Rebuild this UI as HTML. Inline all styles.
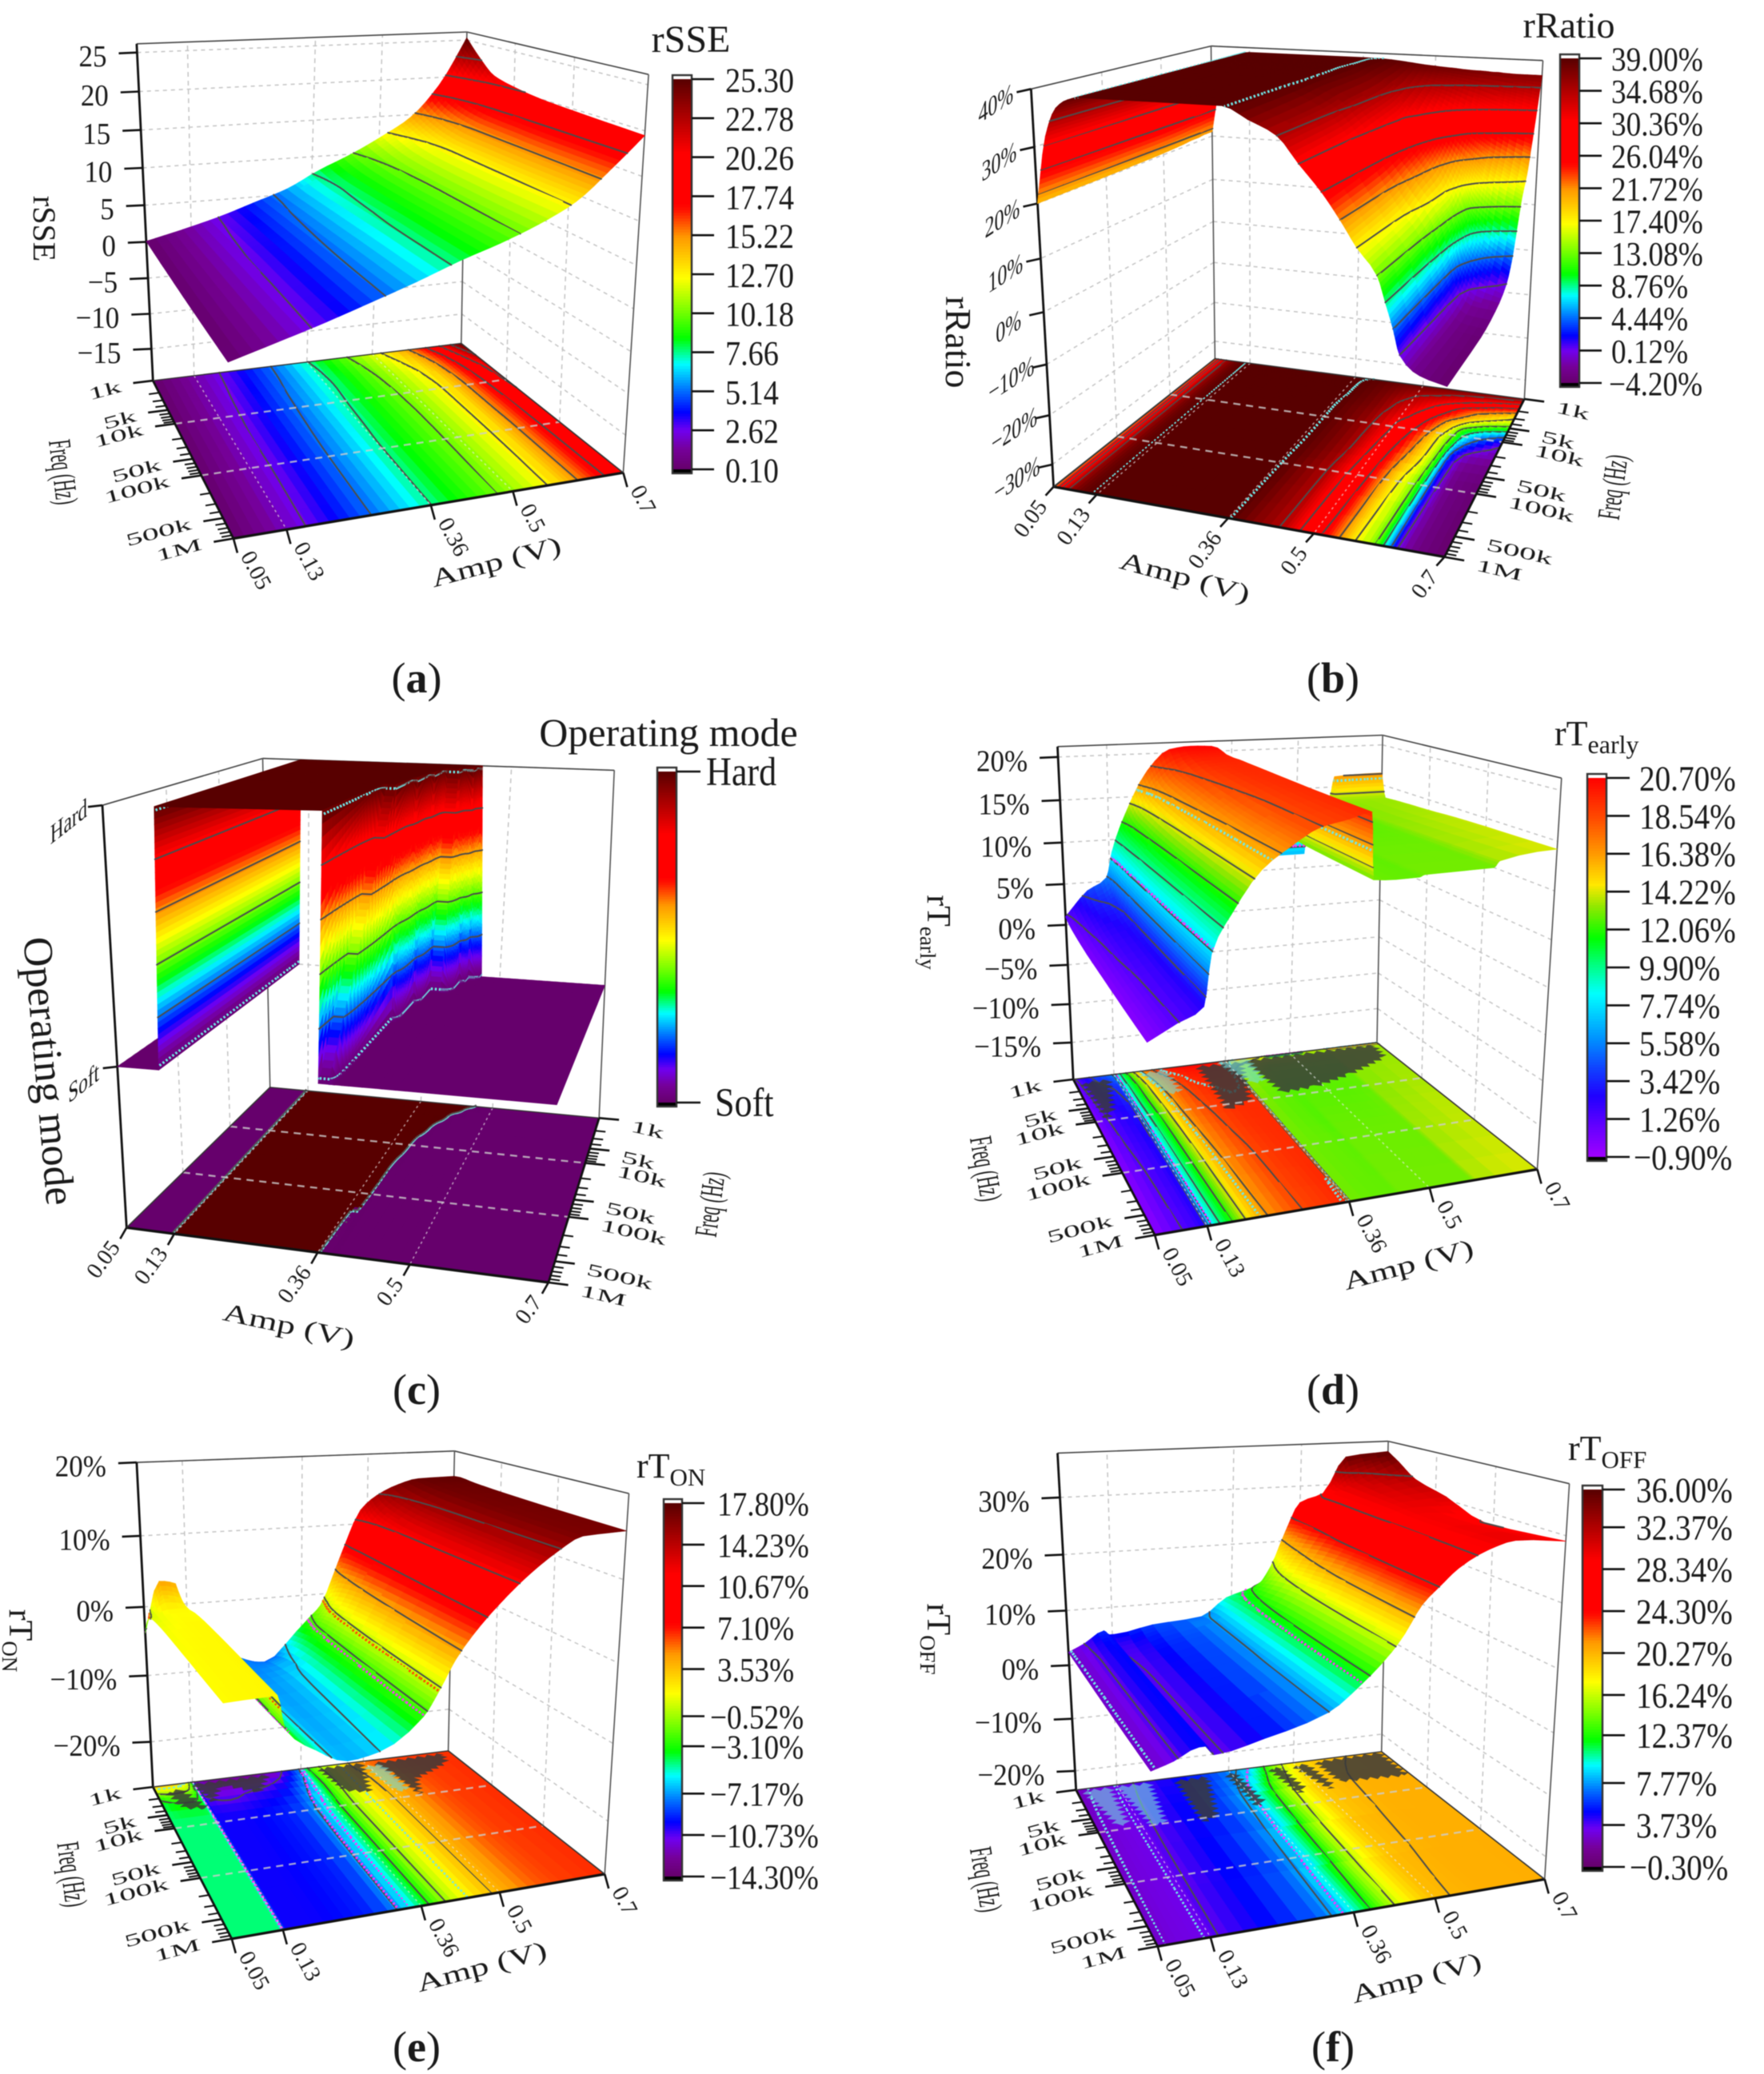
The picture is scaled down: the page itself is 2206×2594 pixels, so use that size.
<!DOCTYPE html>
<html lang="en">
<head>
<meta charset="utf-8">
<title>Operating mode surfaces</title>
<style>
html,body{margin:0;padding:0;background:#fff;}
svg{display:block;font-family:"Liberation Serif",serif;fill:#1a1a1a;filter:blur(0.6px);}
</style>
</head>
<body>
<svg id="chart" xmlns="http://www.w3.org/2000/svg" width="2206" height="2594" viewBox="0 0 2206 2594">
<rect x="0" y="0" width="2206" height="2594" fill="#fff"/>

<text x="864" y="65" font-size="48" text-anchor="middle">rSSE</text>
<text x="1962" y="47" font-size="46" text-anchor="middle">rRatio</text>
<text x="836" y="933" font-size="50" text-anchor="middle">Operating mode</text>
<text x="1944" y="932" font-size="44">rT<tspan font-size="32" dy="10">early</tspan></text>
<text x="796" y="1848" font-size="44">rT<tspan font-size="31" dy="10">ON</tspan></text>
<text x="1961" y="1826" font-size="44">rT<tspan font-size="31" dy="10">OFF</tspan></text>

<text transform="translate(42,286) rotate(90)" font-size="40" text-anchor="middle">rSSE</text>
<text transform="translate(1183,428) rotate(90)" font-size="46" text-anchor="middle">rRatio</text>
<text transform="translate(44,1341) rotate(85)" font-size="52" text-anchor="middle">Operating mode</text>
<text transform="translate(1160,1166) rotate(90)" font-size="42" text-anchor="middle">rT<tspan font-size="27" dy="9">early</tspan></text>
<text transform="translate(12,2052) rotate(90)" font-size="42" text-anchor="middle">rT<tspan font-size="27" dy="9">ON</tspan></text>
<text transform="translate(1160,2050) rotate(90)" font-size="42" text-anchor="middle">rT<tspan font-size="27" dy="9">OFF</tspan></text>

<text transform="translate(66,592) rotate(83) scale(.65,1.25)" font-size="32" text-anchor="middle">Freq (Hz)</text>
<text transform="translate(2030,611) rotate(-82) scale(.65,1.25)" font-size="32" text-anchor="middle">Freq (Hz)</text>
<text transform="translate(901,1508) rotate(-82) scale(.65,1.25)" font-size="32" text-anchor="middle">Freq (Hz)</text>
<text transform="translate(1220,1464) rotate(80) scale(.65,1.25)" font-size="32" text-anchor="middle">Freq (Hz)</text>
<text transform="translate(77,2346) rotate(82) scale(.65,1.25)" font-size="32" text-anchor="middle">Freq (Hz)</text>
<text transform="translate(1220,2353) rotate(80) scale(.65,1.25)" font-size="32" text-anchor="middle">Freq (Hz)</text>

<text transform="translate(623,713) rotate(-15) scale(1.15,.8)" font-size="40" text-anchor="middle">Amp (V)</text>
<text transform="translate(1479,732) rotate(15) scale(1.15,.8)" font-size="40" text-anchor="middle">Amp (V)</text>
<text transform="translate(359,1668) rotate(12) scale(1.15,.8)" font-size="40" text-anchor="middle">Amp (V)</text>
<text transform="translate(1764,1592) rotate(-15) scale(1.15,.8)" font-size="40" text-anchor="middle">Amp (V)</text>
<text transform="translate(605,2470) rotate(-15) scale(1.15,.8)" font-size="40" text-anchor="middle">Amp (V)</text>
<text transform="translate(1774,2484) rotate(-15) scale(1.15,.8)" font-size="40" text-anchor="middle">Amp (V)</text>

<text x="521" y="866" font-size="54" text-anchor="middle">(<tspan font-weight="bold">a</tspan>)</text>
<text x="1667" y="866" font-size="54" text-anchor="middle">(<tspan font-weight="bold">b</tspan>)</text>
<text x="521" y="1756" font-size="54" text-anchor="middle">(<tspan font-weight="bold">c</tspan>)</text>
<text x="1667" y="1756" font-size="54" text-anchor="middle">(<tspan font-weight="bold">d</tspan>)</text>
<text x="521" y="2578" font-size="54" text-anchor="middle">(<tspan font-weight="bold">e</tspan>)</text>
<text x="1667" y="2578" font-size="54" text-anchor="middle">(<tspan font-weight="bold">f</tspan>)</text>
</svg>

<script>
/* ---------- shared axis data ---------- */
const ampTicks=[0.05,0.13,0.36,0.5,0.7];
const ampTickLabels=['0.05','0.13','0.36','0.5','0.7'];
const freqMajorKHz=[1,5,10,50,100,500,1000];
const freqMajorLabels=['1k','5k','10k','50k','100k','500k','1M'];
const freqMinorKHz=[2,3,4,6,7,8,9,20,30,40,60,70,80,90,200,300,400,600,700,800,900];
const floorGridAmps=[0.13,0.36,0.5];
const floorGridFreqKHz=[10,100];

/* ---------- panel (a) rSSE ---------- */
const aAmps=[0.05,0.115,0.18,0.245,0.31,0.375,0.44,0.505,0.57,0.635,0.7];
const aFreqs=[1,2,4,10,32,100,1000];
const aValues=[
[0.1,1.3,2.62,4.2,5.8,8.1,10,12.2,14.7,19,25.3],
[0.1,1.35,2.7,4.3,5.8,7.8,9.6,11.6,13.8,17.5,23],
[0.1,1.4,2.8,4.4,5.9,7.7,9.4,11.2,13.2,16.8,21.2],
[0.1,1.45,2.9,4.5,6,7.8,9.3,11,12.9,16.4,20.5],
[0.1,1.5,3,4.6,6.1,7.9,9.3,10.9,12.9,16.3,20],
[0.1,1.55,3,4.65,6.2,8,9.35,10.9,12.9,16.2,19.8],
[0.1,1.6,3.1,4.7,6.3,8,9.4,11,13,16.2,19.5]];
const aZTicks=[25,20,15,10,5,0,-5,-10,-15];
const aZLabels=['25','20','15','10','5','0','−5','−10','−15'];
const aBarValues=[25.3,22.78,20.26,17.74,15.22,12.7,10.18,7.66,5.14,2.62,0.1];
const aBarLabels=['25.30','22.78','20.26','17.74','15.22','12.70','10.18','7.66','5.14','2.62','0.10'];

/* ---------- panel (b) rRatio ---------- */
const bAmps=[0.05,0.07,0.09,0.11,0.13,0.36,0.4,0.444,0.477,0.512,0.54,0.565,0.596,0.608,0.62,0.63,0.66,0.7];
const bFreqs=[1,1.23,1.51,2,2.8,4,5.6,8,12.9,32,100,1000];
const bValues=[
[21,33,37,38.5,39,39,38.9,38.5,38.1,37.8,37.6,37.4,37.3,37.2,37.2,37.1,37,37],
[21,33,37,38.5,39,39,38.7,37.9,37.2,36.7,36.2,35.8,35.2,35,34.8,34.6,34,33],
[21,32.8,37,38.5,39,39,38.6,37.6,36.5,35.5,34.9,34,33,32.5,32,31.7,30.5,29],
[20.8,32.8,37,38.5,39,39,38.5,37.3,35.7,34,33,31.8,29.8,29,28.3,27.7,25.7,24],
[20.8,32.7,37,38.5,39,39,38.4,37,34.8,33,31,28.7,25.4,24.4,23.5,22.8,21.2,18.5],
[20.6,32.6,37,38.5,39,39,38.2,36.8,34.2,31.7,29.3,26.5,23.2,22,20.8,19.8,17.4,15],
[20.5,32.5,37,38.5,39,39,38,36.4,33.5,30.7,27.6,24.6,20.2,18.8,16.8,15.4,12.4,10],
[20.4,32.4,37,38.5,39,39,38,36.2,33,29.2,26.5,23.1,18.1,15.4,12.1,10.3,7.2,4.4],
[20.3,32.3,37,38.5,39,39,38,36,32.6,28.7,25.3,21.7,16,13.4,10.2,7.3,3,0.1],
[20.2,32.2,37,38.5,39,39,38,35.8,32,27.6,23.9,20.3,15.4,11.8,6.6,2.2,-2,-2.5],
[20.1,32.1,37,38.5,39,39,37.5,35,31,27,22.5,18.3,14,10,5.5,1.2,-3,-3.8],
[20,32,37,38.5,39,39,37,34.7,30.4,26,21.7,17.4,13,8.8,4.4,0.1,-3,-4.2]];
const bZTicks=[40,30,20,10,0,-10,-20,-30];
const bZLabels=['40%','30%','20%','10%','0%','−10%','−20%','−30%'];
const bBarValues=[39,34.68,30.36,26.04,21.72,17.4,13.08,8.76,4.44,0.12,-4.2];
const bBarLabels=['39.00%','34.68%','30.36%','26.04%','21.72%','17.40%','13.08%','8.76%','4.44%','0.12%','−4.20%'];

/* ---------- panel (c) Operating mode ---------- */
const cAmps=[0.05,0.112,0.116,0.34,0.35,0.365,0.375,0.385,0.395,0.415,0.435,0.445,0.465,0.7];
const cFreqs=[1,1.41,2,4,10,32,1000];
const cValues=[
[0,0,1,1,1,1,1,1,1,1,1,1,0,0],
[0,0,1,1,1,1,1,1,1,1,1,0,0,0],
[0,0,1,1,1,1,1,1,1,1,0,0,0,0],
[0,0,1,1,1,1,1,1,0,0,0,0,0,0],
[0,0,1,1,1,1,1,0,0,0,0,0,0,0],
[0,0,1,1,1,1,0,0,0,0,0,0,0,0],
[0,0,1,1,0,0,0,0,0,0,0,0,0,0]];
const cFloorAmps=[0.05,0.128,0.132,0.36,0.37,0.38,0.39,0.40,0.42,0.44,0.46,0.48,0.5,0.7];
const cFloorValues=[
[0,0,1,1,1,1,1,1,1,1,1,0,0,0],
[0,0,1,1,1,1,1,1,1,1,0,0,0,0],
[0,0,1,1,1,1,1,1,1,0,0,0,0,0],
[0,0,1,1,1,1,1,1,0,0,0,0,0,0],
[0,0,1,1,1,1,1,0,0,0,0,0,0,0],
[0,0,1,1,1,1,0,0,0,0,0,0,0,0],
[0,0,1,1,0,0,0,0,0,0,0,0,0,0]];
const cZTicks=[1,0];
const cZLabels=['Hard','Soft'];
const cBarValues=[1,0];
const cBarLabels=['Hard','Soft'];

/* ---------- panel (d) rTearly ---------- */
const dAmps=[0.05,0.09,0.125,0.135,0.16,0.2,0.24,0.28,0.32,0.355,0.365,0.42,0.44,0.45,0.52,0.53,0.575,0.585,0.695,0.7];
const dFreqs=[1,1.23,2,4,10,32,100,1000];
const dValues=[
[1,4,5.5,8.5,13,18,20.4,20.7,20.6,19,16.5,14.5,14.2,6.8,6.8,14,13.8,16.3,16.5,16.4],
[0.8,3.5,5,8.5,12.5,17.5,19.8,20.2,20.2,19,15,14,13.8,13.6,13.5,13.4,13.4,13.5,13.5,13.5],
[0.5,3,4,8.2,12,16.5,18.8,19.8,19.8,19.4,14,13.2,13,13,13,13,13,13.3,13.5,13.6],
[0.3,2.5,3.5,8,11.8,16,18.3,19.3,19.5,19.4,13.5,12.9,12.8,12.8,12.8,12.8,12.8,13.2,13.6,13.7],
[0.1,2,3,7.8,11.5,15.7,18,19,19.4,19.4,13.2,12.7,12.6,12.7,12.7,12.7,12.8,13.2,13.7,13.8],
[0,1.7,2.8,7.7,11.3,15.4,17.6,18.8,19.3,19.4,13.1,12.7,12.6,12.8,12.8,12.8,12.9,13.3,13.9,14],
[-0.1,1.4,2.7,7.6,11.2,15.2,17.3,18.6,19.2,19.4,13,12.8,12.7,12.9,12.9,12.9,12.9,13.4,14,14.1],
[-0.3,1.2,2.5,7.5,11,15,17,18.5,19,19.5,13,12.8,12.8,13,13,13,13,13.6,14.2,14.2]];
const dZTicks=[20,15,10,5,0,-5,-10,-15];
const dZLabels=['20%','15%','10%','5%','0%','−5%','−10%','−15%'];
const dBarValues=[20.7,18.54,16.38,14.22,12.06,9.9,7.74,5.58,3.42,1.26,-0.9];
const dBarLabels=['20.70%','18.54%','16.38%','14.22%','12.06%','9.90%','7.74%','5.58%','3.42%','1.26%','−0.90%'];

/* ---------- panel (e) rTON ---------- */
const eAmps=[0.05,0.08,0.11,0.125,0.135,0.18,0.23,0.28,0.35,0.375,0.4,0.44,0.485,0.52,0.57,0.615,0.7];
const eFreqs=[1,1.41,2.83,10,100,1000];
const eValues=[
[-3.8,3.5,3,-1.8,-2.5,-6,-8.5,-9.6,-5.3,-3.5,-1.7,5,12,14,15.5,16.2,16.3],
[-1.5,2,1.5,-0.5,-2.5,-6,-8.5,-8.9,-5,-3,-0.8,5.6,10.8,13.2,15.2,16.2,16.4],
[-0.2,0.4,0.5,0.3,-3,-6.5,-8.5,-8.2,-4.5,-2,0.5,5.8,10,12.5,14.8,16,16.2],
[0.2,0.5,0.6,0.6,-3.2,-6.6,-8.2,-7.6,-4.2,-1.5,1.5,6,9.7,12,14.4,15.8,16],
[0.4,0.6,0.6,0.7,-3.2,-6.3,-8,-7.4,-3.9,-1,2.2,6.2,9.6,11.8,14.2,15.6,15.8],
[0.5,0.6,0.65,0.7,-3,-6,-7.8,-7.2,-3.7,-0.8,2.6,6.3,9.5,11.6,14,15.5,15.7]];
const eFloorFreqs=[1,2.83,10,1000];
const eFloorValues=[
[3,3,2,-2,-12,-13,-13,-12.5,-8,-3,-0.5,1.5,5,6,6.4,6.5,6.5],
[-4,-3,-3,-3.5,-10.5,-11,-10.5,-10,-6.5,-3.5,-1,1.5,3.7,4.8,6,6.3,6.6],
[-4.5,-4.5,-4.5,-4.5,-9.8,-9.8,-9.5,-9,-5.5,-3,-0.7,1.5,3.5,4.5,5.8,6.3,6.6],
[-4.5,-4.5,-4.5,-4.5,-9.8,-9.8,-9.5,-9,-5,-3,-0.7,1.5,3.5,4.5,5.8,6.3,6.6]];
const eZTicks=[20,10,0,-10,-20];
const eZLabels=['20%','10%','0%','−10%','−20%'];
const eBarValues=[17.8,14.23,10.67,7.1,3.53,-0.52,-3.1,-7.17,-10.73,-14.3];
const eBarLabels=['17.80%','14.23%','10.67%','7.10%','3.53%','−0.52%','−3.10%','−7.17%','−10.73%','−14.30%'];

/* ---------- panel (f) rTOFF ---------- */
const fAmps=[0.05,0.08,0.115,0.125,0.135,0.205,0.3,0.35,0.395,0.415,0.44,0.47,0.5,0.55,0.6,0.7];
const fFreqs=[1,1.74,4,15.8,72.4,1000];
const fValues=[
[2.4,3.8,5.8,5,5,6.2,7,10.2,11.5,12.2,15.4,21.8,27,28.5,35,35.7],
[2.4,3.6,5.2,5,4,5.8,7.6,10.5,13,14.5,17.5,22.5,27,29,31,34.3],
[2.4,3.4,5,5,3.7,5.4,7.6,10.8,14,16,19,23,26.5,29,30.5,32],
[2.4,3.4,5,5,3.6,5.2,7.6,11,15,17,20.5,24,26.6,29,30,30.5],
[2.4,3.4,5,5,3.6,5.1,7.7,11.2,15.3,17.6,21.5,24.3,26.7,28.8,29.5,28.2],
[2.4,3.4,5,5,3.6,5,7.7,11.3,15.5,18,21.9,24.5,26.8,29,30,29.2]];
const fFloorFreqs=[1,4,1000];
const fFloorValues=[
[2.3,2.8,3.1,3.3,3.4,4.3,5.7,7,8.5,10,13,16,18,19.7,20.2,20.5],
[2.4,2.9,3.2,3.4,3.5,4.6,6.2,8,10.8,13,15.5,17.5,19.3,20,20.4,20.5],
[2.5,3,3.2,3.4,3.6,4.8,6.8,9.2,13,15,17,19,20,20.4,20.5,20.5]];
const fZTicks=[30,20,10,0,-10,-20];
const fZLabels=['30%','20%','10%','0%','−10%','−20%'];
const fBarValues=[36,32.37,28.34,24.3,20.27,16.24,12.37,7.77,3.73,-0.3];
const fBarLabels=['36.00%','32.37%','28.34%','24.30%','20.27%','16.24%','12.37%','7.77%','3.73%','−0.30%'];

/* ---------- contour-clutter regions on the floors (axis fractions: amp share, log-freq share) ---------- */
const dClutter=[
 ['#3a3a3a',[[.53,.02],[.545,.16],[.56,.3],[.67,.29],[.81,.23],[.97,.13],[.98,.02]]],
 ['#3a3a3a',[[.38,.02],[.37,.37],[.45,.33],[.52,.03]]],
 ['#3a3a3a',[[.02,.04],[.035,.32],[.06,.28],[.1,.04]]],
 ['#70e0e0',[[.2,.02],[.24,.2],[.28,.2],[.28,.02]]],
 ['#70e0e0',[[.45,0],[.5,.2],[.54,.2],[.55,0]]]];
const eClutter=[
 ['#3a3a3a',[[.72,.03],[.74,.14],[.76,.33],[.8,.2],[.95,.1],[.97,.02]]],
 ['#3a3a3a',[[.53,.02],[.55,.22],[.62,.26],[.68,.02]]],
 ['#3a3a3a',[[.12,.02],[.15,.18],[.2,.05],[.3,.15],[.36,.02]]],
 ['#3a3a3a',[[.03,.06],[.06,.2],[.12,.22],[.08,.05]]],
 ['#70e0e0',[[.68,.05],[.7,.28],[.74,.28],[.74,.05]]]];
const fClutter=[
 ['#3a3a3a',[[.76,.02],[.77,.2],[.99,.22],[.99,.01]]],
 ['#3a3a3a',[[.3,.03],[.29,.36],[.34,.33],[.4,.03]]],
 ['#3a3a3a',[[.46,.03],[.47,.3],[.5,.28],[.49,.03]]],
 ['#3a3a3a',[[.6,.03],[.62,.25],[.65,.22],[.64,.03]]],
 ['#3a3a3a',[[.68,.03],[.72,.25],[.74,.22],[.73,.03]]],
 ['#70e0e0',[[.02,.02],[.06,.3],[.09,.3],[.1,.02]]],
 ['#70e0e0',[[.12,.02],[.15,.33],[.19,.33],[.22,.02]]]];

/* ---------- colour maps ---------- */
const baseStops=[[0,'#66006c'],[.05,'#750098'],[.1,'#7000f0'],[.145,'#0000ff'],[.21,'#0080ff'],[.27,'#00ffff'],[.335,'#00ff00'],[.41,'#80ff00'],[.49,'#ffff00'],[.595,'#ff9900'],[.665,'#ff1000'],[.68,'#ff0000'],[.81,'#ff0000'],[.9,'#b00000'],[1,'#580000']];
const earlyStops=[[0,'#a000ff'],[.085,'#6000ff'],[.16,'#2000ff'],[.232,'#1040ff'],[.31,'#0090ff'],[.43,'#00ffff'],[.507,'#00ff80'],[.577,'#00ff00'],[.66,'#90e800'],[.718,'#ffe800'],[.8,'#ff9900'],[.887,'#ff5000'],[1,'#ff0000']];

function hexRGB(h){return [parseInt(h.slice(1,3),16),parseInt(h.slice(3,5),16),parseInt(h.slice(5,7),16)];}
function colorAt(stops,f){
  f=Math.max(0,Math.min(1,f));
  for(let i=1;i<stops.length;i++){
    if(f<=stops[i][0]){
      const s=(f-stops[i-1][0])/(stops[i][0]-stops[i-1][0]);
      const a=hexRGB(stops[i-1][1]),b=hexRGB(stops[i][1]);
      return 'rgb('+Math.round(a[0]+(b[0]-a[0])*s)+','+Math.round(a[1]+(b[1]-a[1])*s)+','+Math.round(a[2]+(b[2]-a[2])*s)+')';
    }
  }
  return stops[stops.length-1][1];
}

/* ---------- geometry helpers ---------- */
const NS='http://www.w3.org/2000/svg';
const svg=document.getElementById('chart');
function homography(q){
  const [x0,y0]=q[0],[x1,y1]=q[1],[x2,y2]=q[2],[x3,y3]=q[3];
  const dx1=x1-x2,dx2=x3-x2,sx=x0-x1+x2-x3,dy1=y1-y2,dy2=y3-y2,sy=y0-y1+y2-y3;
  const den=dx1*dy2-dx2*dy1;
  const g=(sx*dy2-dx2*sy)/den,h=(dx1*sy-sx*dy1)/den;
  const a=x1-x0+g*x1,b=x3-x0+h*x3,c=x0,d=y1-y0+g*y1,e=y3-y0+h*y3,f=y0;
  return (u,v)=>{const w=g*u+h*v+1;return [(a*u+b*v+c)/w,(d*u+e*v+f)/w];};
}
const ampToU=a=>(a-0.05)/0.65;
const freqToV=k=>Math.log10(k)/3;

/* monotone cubic so cliffs stay cliffs while slopes turn smooth */
function pchip(xs,ys,qs){
  const n=xs.length,h=[],s=[],d=new Array(n).fill(0);
  for(let i=0;i<n-1;i++){h[i]=xs[i+1]-xs[i];s[i]=(ys[i+1]-ys[i])/h[i];}
  d[0]=s[0];d[n-1]=s[n-2];
  for(let i=1;i<n-1;i++){
    if(s[i-1]*s[i]<=0)d[i]=0;
    else{const w1=2*h[i]+h[i-1],w2=h[i]+2*h[i-1];d[i]=(w1+w2)/(w1/s[i-1]+w2/s[i]);}
  }
  return qs.map(q=>{
    let i=0;
    while(i<n-2&&q>xs[i+1])i++;
    const t=(q-xs[i])/h[i],t2=t*t,t3=t2*t;
    return (2*t3-3*t2+1)*ys[i]+(t3-2*t2+t)*h[i]*d[i]+(-2*t3+3*t2)*ys[i+1]+(t3-t2)*h[i]*d[i+1];
  });
}
function refine(xs,m){
  const out=[];
  for(let i=0;i<xs.length-1;i++)for(let k=0;k<m;k++)out.push(xs[i]+(xs[i+1]-xs[i])*k/m);
  out.push(xs[xs.length-1]);
  return out;
}
function upsample(amps,freqs,vals,m){
  if(m<=1)return {amps:amps,freqs:freqs,vals:vals};
  const fa=refine(amps,m),lf=freqs.map(k=>Math.log10(k)),flf=refine(lf,m);
  const rows=vals.map(r=>pchip(amps,r,fa));
  const cols=fa.map((_,c)=>pchip(lf,rows.map(r=>r[c]),flf));
  return {amps:fa,freqs:flf.map(l=>Math.pow(10,l)),vals:flf.map((_,j)=>cols.map(col=>col[j]))};
}

function addLine(parent,a,b,stroke,width,dash,name){
  const el=document.createElementNS(NS,'line');
  
  
  el.setAttribute('x1',a[0].toFixed(1));el.setAttribute('y1',a[1].toFixed(1));
  el.setAttribute('x2',b[0].toFixed(1));el.setAttribute('y2',b[1].toFixed(1));
  el.setAttribute('stroke',stroke);el.setAttribute('stroke-width',width);
  if(dash)el.setAttribute('stroke-dasharray',dash);
  parent.appendChild(el);
}
function addText(parent,str,x,y,o,name){
  const el=document.createElementNS(NS,'text');
  
  
  el.setAttribute('transform','translate('+x.toFixed(1)+','+y.toFixed(1)+') rotate('+(o.rot||0)+') skewY('+(o.skew||0)+') scale('+(o.sx||1)+','+(o.sy||1)+')');
  el.setAttribute('font-size',o.size);
  el.setAttribute('text-anchor',o.anchor||'middle');
  el.setAttribute('dominant-baseline','central');
  el.textContent=str;
  parent.appendChild(el);
}
function addGroup(parent,name){
  const el=document.createElementNS(NS,'g');
  
  
  parent.appendChild(el);
  return el;
}

/* split each data cell according to how much colour it spans */
function buildCells(amps,freqs,vals,range,target){
  const us=amps.map(ampToU),vs=freqs.map(freqToV),cells=[];
  for(let j=0;j<vs.length-1;j++){
    for(let i=0;i<us.length-1;i++){
      const z00=vals[j][i],z10=vals[j][i+1],z01=vals[j+1][i],z11=vals[j+1][i+1];
      let nx=Math.max(1,Math.ceil(Math.max(Math.abs(z10-z00),Math.abs(z11-z01))/range*target));
      let ny=Math.max(1,Math.ceil(Math.max(Math.abs(z01-z00),Math.abs(z11-z10))/range*target));
      if(nx*ny>400){const s=Math.sqrt(400/(nx*ny));nx=Math.ceil(nx*s);ny=Math.ceil(ny*s);}
      const val=(s,t)=>z00*(1-s)*(1-t)+z10*s*(1-t)+z01*(1-s)*t+z11*s*t;
      for(let b=0;b<ny;b++){
        for(let a=0;a<nx;a++){
          const s0=a/nx,s1=(a+1)/nx,t0=b/ny,t1=(b+1)/ny;
          cells.push({
            u0:us[i]+(us[i+1]-us[i])*s0,u1:us[i]+(us[i+1]-us[i])*s1,
            v0:vs[j]+(vs[j+1]-vs[j])*t0,v1:vs[j]+(vs[j+1]-vs[j])*t1,
            z:[val(s0,t0),val(s1,t0),val(s1,t1),val(s0,t1)]
          });
        }
      }
    }
  }
  return cells;
}

function contourSegments(p,z,L){
  const pts=[];
  for(let k=0;k<4;k++){
    const n=(k+1)%4;
    if((z[k]>=L)!==(z[n]>=L)){
      const t=(L-z[k])/(z[n]-z[k]);
      pts.push([p[k][0]+(p[n][0]-p[k][0])*t,p[k][1]+(p[n][1]-p[k][1])*t]);
    }
  }
  const out=[];
  for(let k=0;k+1<pts.length;k+=2)out.push([pts[k],pts[k+1]]);
  return out;
}

function paintCells(parent,cells,project,floorProj,colorOf,levels,dotted,prefix){
  const frag=document.createDocumentFragment();
  const items=cells.map(c=>{
    const m=floorProj((c.u0+c.u1)/2,(c.v0+c.v1)/2);
    return {c:c,d:m[1]};
  });
  items.sort((a,b)=>a.d-b.d);
  for(const it of items){
    const c=it.c;
    const P=[project(c.u0,c.v0,c.z[0]),project(c.u1,c.v0,c.z[1]),project(c.u1,c.v1,c.z[2]),project(c.u0,c.v1,c.z[3])];
    const col=colorOf((c.z[0]+c.z[1]+c.z[2]+c.z[3])/4);
    const poly=document.createElementNS(NS,'polygon');
    
    
    poly.setAttribute('points',P.map(q=>q[0].toFixed(1)+','+q[1].toFixed(1)).join(' '));
    poly.setAttribute('fill',col);
    poly.setAttribute('stroke',col);
    poly.setAttribute('stroke-width','0.7');
    frag.appendChild(poly);
    for(const L of levels){
      for(const s of contourSegments(P,c.z,L)){
        const ln=document.createElementNS(NS,'line');
        
        
        ln.setAttribute('x1',s[0][0].toFixed(1));ln.setAttribute('y1',s[0][1].toFixed(1));
        ln.setAttribute('x2',s[1][0].toFixed(1));ln.setAttribute('y2',s[1][1].toFixed(1));
        ln.setAttribute('stroke','#4c4c4c');ln.setAttribute('stroke-width','2');
        ln.setAttribute('stroke-linecap','round');
        frag.appendChild(ln);
      }
    }
    for(const D of dotted){
      for(const s of contourSegments(P,c.z,D[0]))addLine(frag,s[0],s[1],D[1],D[2]||'3.4',D[3]===undefined?'2.5 2.5':D[3],prefix+'-dotted-contour');
    }
  }
  parent.appendChild(frag);
}

/* saw-tooth outline so a clutter region reads as aliased contour noise */
function zigzag(pts){
  const out=[];
  for(let i=0;i<pts.length;i++){
    const a=pts[i],b=pts[(i+1)%pts.length];
    const len=Math.hypot(b[0]-a[0],b[1]-a[1]),n=Math.max(1,Math.ceil(len/0.018));
    const nx=-(b[1]-a[1])/(len||1),ny=(b[0]-a[0])/(len||1);
    for(let k=0;k<n;k++){
      const t=k/n,o=(k%2?0.011:-0.011);
      out.push([a[0]+(b[0]-a[0])*t+nx*o,Math.max(0,a[1]+(b[1]-a[1])*t+ny*o)]);
    }
  }
  return out;
}

/* ---------- panel renderer ---------- */
function drawPanel(cfg){
  const g=addGroup(svg,'panel-'+cfg.id);
  const SX=1103/1568;
  const Z=p=>[cfg.ox+p[0]*SX,cfg.oy+p[1]*cfg.sy];
  const Fh=homography(cfg.floor.map(Z)),Ch=homography(cfg.ceil.map(Z));
  const zb=cfg.zRange[0],zt=cfg.zRange[1];
  const W=z=>{const t=(z-zb)/(zt-zb);return t+cfg.k*t*(1-t);};
  const pt=(u,v,z)=>{const a=Fh(u,v),b=Ch(u,v),w=W(z);return [a[0]+(b[0]-a[0])*w,a[1]+(b[1]-a[1])*w];};
  const floorPt=(u,v)=>Fh(u,v);
  const barMin=cfg.barValues[cfg.barValues.length-1],barMax=cfg.barValues[0];
  const colorOf=z=>colorAt(cfg.stops,(z-barMin)/(barMax-barMin));
  const side=cfg.sideU;

  /* walls */
  const walls=addGroup(g,'wall-grid-'+cfg.id);
  cfg.zTicks.forEach(z=>{
    addLine(walls,pt(0,0,z),pt(1,0,z),'#c4c4c4','1.5','5 5','wall-grid-z-line');
    addLine(walls,pt(side,0,z),pt(side,1,z),'#c4c4c4','1.5','5 5','wall-grid-z-line');
  });
  floorGridAmps.forEach(a=>addLine(walls,pt(ampToU(a),0,zb),pt(ampToU(a),0,zt),'#c4c4c4','1.5','6 5','wall-grid-amp-line'));
  floorGridFreqKHz.forEach(k=>addLine(walls,pt(side,freqToV(k),zb),pt(side,freqToV(k),zt),'#c4c4c4','1.5','6 5','wall-grid-freq-line'));
  addLine(walls,pt(0,0,zt),pt(1,0,zt),'#444','1.6',null,'frame-top-back');
  addLine(walls,pt(side,0,zt),pt(side,1,zt),'#444','1.6',null,'frame-top-side');
  addLine(walls,pt(side,0,zb),pt(side,0,zt),'#555','1.6',null,'frame-back-corner');
  const oc=cfg.outerCorner;
  addLine(walls,pt(oc[0],oc[1],zb),pt(oc[0],oc[1],zt),'#555','1.6',null,'frame-outer-corner');

  /* floor */
  const floorG=addGroup(g,'floor-map-'+cfg.id);
  const rng=barMax-barMin,m=cfg.refine;
  const fl=upsample(cfg.floorAmps||cfg.amps,cfg.floorFreqs||cfg.freqs,cfg.floorValues||cfg.values,m);
  const floorCells=buildCells(fl.amps,fl.freqs,fl.vals,rng,34);
  const floorColor=cfg.floorBinary?(z=>colorOf(z>=0.5?1:0)):colorOf;
  paintCells(floorG,floorCells,(u,v)=>floorPt(u,v),floorPt,floorColor,cfg.floorBinary?[]:cfg.levels,cfg.floorDotted,'floor');
  (cfg.clutter||[]).forEach(b=>{
    const poly=document.createElementNS(NS,'polygon');
    
    
    poly.setAttribute('points',zigzag(b[1]).map(q=>{const r=floorPt(q[0],q[1]);return r[0].toFixed(1)+','+r[1].toFixed(1);}).join(' '));
    poly.setAttribute('fill',b[0]);
    poly.setAttribute('fill-opacity',b[0]==='#3a3a3a'?'0.85':'0.6');
    floorG.appendChild(poly);
  });
  floorGridAmps.forEach(a=>addLine(floorG,floorPt(ampToU(a),0),floorPt(ampToU(a),1),'rgba(235,235,235,.65)','1.5','3 4','floor-grid-amp-line'));
  floorGridFreqKHz.forEach(k=>addLine(floorG,floorPt(0,freqToV(k)),floorPt(1,freqToV(k)),'rgba(205,205,205,.8)','2.3','9 7','floor-grid-freq-line'));

  /* axes */
  const axes=addGroup(g,'axes-'+cfg.id);
  const ac=cfg.axisCorner;
  addLine(axes,pt(ac[0],ac[1],zb),pt(ac[0],ac[1],zt),'#111','2.8',null,'z-axis-line');
  cfg.zTicks.forEach((z,i)=>{
    const p=pt(ac[0],ac[1],z);
    addLine(axes,p,[p[0]+cfg.zTick[0],p[1]+cfg.zTick[1]],'#111','2.6',null,'z-axis-tick');
    addText(axes,cfg.zLabels[i],p[0]+cfg.zLab.dx,p[1]+cfg.zLab.dy,cfg.zLab,'z-tick-label');
  });
  addLine(axes,floorPt(0,1),floorPt(1,1),'#111','3.2',null,'amp-axis-line');
  const fu=cfg.freqEdgeU;
  addLine(axes,floorPt(fu,0),floorPt(fu,1),'#111','2.8',null,'freq-axis-line');
  addLine(axes,floorPt(1-fu,0),floorPt(1-fu,1),'#333','1.6',null,'floor-far-edge');
  addLine(axes,floorPt(0,0),floorPt(1,0),'#333','1.4',null,'floor-back-edge');
  ampTicks.forEach((a,i)=>{
    const p=floorPt(ampToU(a),1);
    addLine(axes,p,[p[0]+cfg.ampTick[0],p[1]+cfg.ampTick[1]],'#111','2.6',null,'amp-axis-tick');
    addText(axes,ampTickLabels[i],p[0]+cfg.ampLab.dx,p[1]+cfg.ampLab.dy,cfg.ampLab,'amp-tick-label');
  });
  const dirOut=v=>{
    const a=floorPt(fu,v),b=floorPt(1-fu,v),l=Math.hypot(a[0]-b[0],a[1]-b[1]);
    return [(a[0]-b[0])/l,(a[1]-b[1])/l];
  };
  freqMinorKHz.forEach(k=>{
    const v=freqToV(k),p=floorPt(fu,v),d=dirOut(v);
    addLine(axes,p,[p[0]+d[0]*13,p[1]+d[1]*13],'#111','2',null,'freq-axis-minor-tick');
  });
  freqMajorKHz.forEach((k,i)=>{
    const v=freqToV(k),p=floorPt(fu,v),d=dirOut(v);
    addLine(axes,p,[p[0]+d[0]*25,p[1]+d[1]*25],'#111','2.6',null,'freq-axis-major-tick');
    addText(axes,freqMajorLabels[i],p[0]+cfg.freqLab.dx,p[1]+cfg.freqLab.dy,cfg.freqLab,'freq-tick-label');
  });

  /* surface */
  const surf=addGroup(g,'surface-'+cfg.id);
  const su=upsample(cfg.amps,cfg.freqs,cfg.values,m);
  const cells=buildCells(su.amps,su.freqs,su.vals,rng,44);
  const off=cfg.surfaceColorOffset||0;
  paintCells(surf,cells,pt,floorPt,z=>colorOf(z+off),cfg.levels,cfg.surfaceDotted,'surface');

  /* colour bar */
  const b=cfg.bar,bg=addGroup(g,'colorbar-'+cfg.id);
  const yOf=v=>b.top+(barMax-v)/(barMax-barMin)*(b.bottom-b.top);
  const n=140;
  for(let i=0;i<n;i++){
    const y0=b.top+(b.bottom-b.top)*i/n;
    const r=document.createElementNS(NS,'rect');
    
    
    r.setAttribute('x',b.x0);r.setAttribute('y',y0.toFixed(1));
    r.setAttribute('width',b.x1-b.x0);r.setAttribute('height',((b.bottom-b.top)/n+0.7).toFixed(1));
    r.setAttribute('fill',colorAt(cfg.stops,1-(i+.5)/n));
    bg.appendChild(r);
  }
  const capBot=document.createElementNS(NS,'rect');
  
  
  capBot.setAttribute('x',b.x0);capBot.setAttribute('y',b.bottom);
  capBot.setAttribute('width',b.x1-b.x0);capBot.setAttribute('height',5);
  capBot.setAttribute('fill','#000');
  bg.appendChild(capBot);
  const outline=document.createElementNS(NS,'rect');
  
  
  outline.setAttribute('x',b.x0);outline.setAttribute('y',b.top-5);
  outline.setAttribute('width',b.x1-b.x0);outline.setAttribute('height',b.bottom-b.top+10);
  outline.setAttribute('fill','none');outline.setAttribute('stroke','#333');outline.setAttribute('stroke-width','2.4');
  bg.appendChild(outline);
  cfg.barValues.forEach((v,i)=>{
    const y=yOf(v);
    addLine(bg,[b.x1,y],[b.tickEnd,y],'#111','2.6',null,'colorbar-tick');
    const neg=cfg.barLabels[i].charAt(0)==='−';
    addText(bg,cfg.barLabels[i],(b.labels?b.labels[i]:(b.labelX-(neg?b.negShift:0))),y+1,{size:b.size,anchor:'start',sx:.98,sy:1.12},'colorbar-tick-label');
  });
}

const upperRow=860/1568,midRow=860/1568,lowRow=834/1568;
const straightZ={dx:-38,dy:5,size:35,anchor:'end',sy:1.08};
const downAmp={dx:16,dy:18,rot:62,size:30,anchor:'start',sx:.95,sy:.95};
const leftFreq={dx:-40,dy:7,rot:-15,size:30,anchor:'end',sx:1.4,sy:.72};
const rightFreq={dx:40,dy:10,rot:13,size:30,anchor:'start',sx:1.4,sy:.72};
const upAmp={dx:-14,dy:20,rot:-54,size:30,anchor:'end',sx:.95,sy:.95};

drawPanel({id:'a',ox:0,oy:0,sy:upperRow,refine:4,
  floor:[[272,868],[820,783],[1108,1078],[415,1228]],ceil:[[243,100],[830,73],[1153,170],[392,256]],
  zRange:[-19.6,26.1],k:-0.07,sideU:1,axisCorner:[0,0],outerCorner:[1,1],freqEdgeU:0,
  amps:aAmps,freqs:aFreqs,values:aValues,zTicks:aZTicks,zLabels:aZLabels,
  barValues:aBarValues,barLabels:aBarLabels,stops:baseStops,
  levels:aBarValues.slice(1,-1),surfaceDotted:[],floorDotted:[],
  zTick:[-23,1],zLab:straightZ,ampTick:[5,18],ampLab:downAmp,freqLab:leftFreq,
  bar:{x0:841,x1:865,top:99,bottom:587,tickEnd:893,labelX:907,negShift:0,size:39}});

drawPanel({id:'b',ox:1103,oy:0,sy:upperRow,refine:3,
  floor:[[592,818],[1142,910],[1000,1270],[305,1110]],ceil:[[585,105],[1175,138],[1012,256],[265,203]],
  zRange:[-34.6,40],k:-0.1,sideU:0,axisCorner:[0,1],outerCorner:[1,0],freqEdgeU:1,
  amps:bAmps,freqs:bFreqs,values:bValues,zTicks:bZTicks,zLabels:bZLabels,
  barValues:bBarValues,barLabels:bBarLabels,stops:baseStops,
  levels:bBarValues.slice(1,-1),surfaceDotted:[[38.9,'#70e8e8']],floorDotted:[[38.9,'#70e8e8']],
  zTick:[-18,4],zLab:{dx:-44,dy:18,skew:-33,size:35,anchor:'middle',sx:.68,sy:1},ampTick:[-10,11],ampLab:upAmp,freqLab:rightFreq,
  bar:{x0:1951,x1:1975,top:73,bottom:479,tickEnd:2003,labelX:2015,negShift:3,size:38}});

drawPanel({id:'c',ox:0,oy:880,sy:midRow,refine:1,
  floor:[[480,875],[1065,945],[975,1320],[225,1195]],ceil:[[467,125],[1092,152],[1014,257],[182,232]],
  zRange:[-0.616,1],k:0,sideU:0,axisCorner:[0,1],outerCorner:[1,0],freqEdgeU:1,
  amps:cAmps,freqs:cFreqs,values:cValues,floorAmps:cFloorAmps,floorValues:cFloorValues,floorBinary:true,
  zTicks:cZTicks,zLabels:cZLabels,
  barValues:cBarValues,barLabels:cBarLabels,stops:baseStops,
  levels:[0.2,0.4,0.6,0.8],surfaceDotted:[[0.015,'#70e8e8'],[0.985,'#70e8e8']],
  floorDotted:[[0.45,'#585858','7',null],[0.45,'#70e8e8','3.2','2.5 2.5']],
  zTick:[-18,2],zLab:{dx:-42,dy:20,skew:-38,size:34,anchor:'middle',sx:.68,sy:1},ampTick:[-8,14],ampLab:upAmp,freqLab:rightFreq,
  bar:{x0:822,x1:846,top:965,bottom:1379,tickEnd:876,labelX:883,negShift:0,size:45,labels:[883,894]}});

drawPanel({id:'d',ox:1103,oy:880,sy:midRow,refine:3,
  floor:[[340,857],[880,773],[1165,1062],[485,1212]],ceil:[[312,98],[890,72],[1208,170],[455,250]],
  zRange:[-19.9,21.2],k:-0.08,sideU:1,axisCorner:[0,0],outerCorner:[1,1],freqEdgeU:0,
  amps:dAmps,freqs:dFreqs,values:dValues,zTicks:dZTicks,zLabels:dZLabels,
  barValues:dBarValues,barLabels:dBarLabels,stops:earlyStops,
  levels:dBarValues.slice(1,-1),surfaceDotted:[[7.9,'#ff30ff'],[15.8,'#70e8e8']],floorDotted:[[7.9,'#ff30ff'],[15.8,'#70e8e8'],[19.45,'#70e8e8']],
  clutter:dClutter,
  zTick:[-23,1],zLab:straightZ,ampTick:[5,18],ampLab:downAmp,freqLab:leftFreq,
  bar:{x0:1985,x1:2009,top:973,bottom:1447,tickEnd:2038,labelX:2050,negShift:7,size:40}});

drawPanel({id:'e',ox:0,oy:1760,sy:lowRow,refine:3,surfaceColorOffset:1,
  floor:[[272,893],[797,808],[1075,1098],[412,1250]],ceil:[[243,130],[808,103],[1118,203],[385,270]],
  zRange:[-27,20],k:-0.08,sideU:1,axisCorner:[0,0],outerCorner:[1,1],freqEdgeU:0,
  amps:eAmps,freqs:eFreqs,values:eValues,floorFreqs:eFloorFreqs,floorValues:eFloorValues,
  zTicks:eZTicks,zLabels:eZLabels,
  barValues:eBarValues,barLabels:eBarLabels,stops:baseStops,
  levels:eBarValues.slice(1,-1),surfaceDotted:[[-3.6,'#ff30ff'],[-0.9,'#ff5000']],floorDotted:[[-7,'#ff30ff'],[-5.8,'#ff30ff'],[1.6,'#70e8e8']],
  clutter:eClutter,
  zTick:[-23,1],zLab:straightZ,ampTick:[5,18],ampLab:downAmp,freqLab:leftFreq,
  bar:{x0:830,x1:853,top:1880,bottom:2347,tickEnd:881,labelX:897,negShift:9,size:38}});

drawPanel({id:'f',ox:1103,oy:1760,sy:lowRow,refine:3,
  floor:[[345,900],[888,810],[1178,1110],[490,1268]],ceil:[[312,108],[900,80],[1222,180],[460,260]],
  zRange:[-23.7,37.6],k:-0.07,sideU:1,axisCorner:[0,0],outerCorner:[1,1],freqEdgeU:0,
  amps:fAmps,freqs:fFreqs,values:fValues,floorFreqs:fFloorFreqs,floorValues:fFloorValues,
  zTicks:fZTicks,zLabels:fZLabels,
  barValues:fBarValues,barLabels:fBarLabels,stops:baseStops,
  levels:fBarValues.slice(1,-1),surfaceDotted:[[11.4,'#ff30ff'],[2.6,'#70e8e8']],floorDotted:[[8.8,'#ff30ff'],[2.7,'#70e8e8'],[3.3,'#70e8e8']],
  clutter:fClutter,
  zTick:[-23,1],zLab:straightZ,ampTick:[5,18],ampLab:downAmp,freqLab:leftFreq,
  bar:{x0:1979,x1:2004,top:1863,bottom:2335,tickEnd:2032,labelX:2046,negShift:8,size:40}});
</script>
</body>
</html>
